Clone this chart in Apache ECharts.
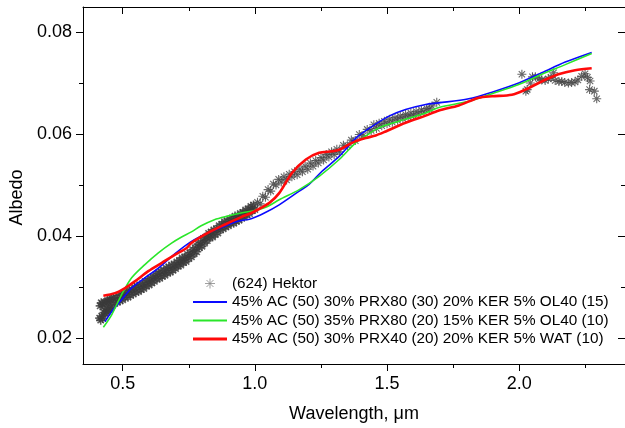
<!DOCTYPE html>
<html>
<head>
<meta charset="utf-8">
<script src="https://cdn.jsdelivr.net/npm/echarts@6/dist/echarts.min.js"></script>
<style>
  html, body { margin: 0; padding: 0; background: #fff; }
  #chart { width: 625px; height: 428px; }
</style>
</head>
<body>
<div id="chart"></div>
<script>
// legend names
const seriesNames = [
  '(624) Hektor',
  '45% AC (50) 30% PRX80 (30) 20% KER 5% OL40 (15)',
  '45% AC (50) 35% PRX80 (20) 15% KER 5% OL40 (10)',
  '45% AC (50) 30% PRX40 (20) 20% KER 5% WAT (10)'
]

// axis ticks
const xMajor = [0.5, 1.0, 1.5, 2.0]
const xMinor = [0.75, 1.25, 1.75, 2.25]
const yMajor = [0.02, 0.04, 0.06, 0.08]
const yMinor = [0.03, 0.05, 0.07]

// (624) Hektor reflectance spectrum, [wavelength um, albedo]
const hektor = [
  [0.413, 0.0240], [0.415, 0.0264], [0.417, 0.0236], [0.419, 0.0270], [0.421, 0.0244],
  [0.423, 0.0268], [0.425, 0.0239], [0.427, 0.0262], [0.430, 0.0251], [0.432, 0.0270],
  [0.435, 0.0249], [0.437, 0.0272], [0.440, 0.0252], [0.442, 0.0274], [0.445, 0.0256],
  [0.447, 0.0272], [0.450, 0.0259], [0.452, 0.0276], [0.455, 0.0261], [0.457, 0.0279],
  [0.460, 0.0265], [0.465, 0.0280], [0.470, 0.0270], [0.475, 0.0280], [0.480, 0.0271],
  [0.485, 0.0284], [0.490, 0.0274], [0.495, 0.0285], [0.500, 0.0276], [0.505, 0.0289],
  [0.510, 0.0281], [0.515, 0.0291], [0.520, 0.0281], [0.525, 0.0295], [0.530, 0.0285],
  [0.535, 0.0295], [0.540, 0.0287], [0.545, 0.0300], [0.550, 0.0291], [0.555, 0.0302],
  [0.560, 0.0292], [0.565, 0.0305], [0.570, 0.0296], [0.575, 0.0306], [0.580, 0.0298],
  [0.585, 0.0312], [0.590, 0.0303], [0.595, 0.0314], [0.600, 0.0305], [0.605, 0.0318],
  [0.610, 0.0309], [0.615, 0.0320], [0.620, 0.0312], [0.625, 0.0325], [0.630, 0.0317],
  [0.635, 0.0328], [0.640, 0.0318], [0.645, 0.0332], [0.650, 0.0322], [0.655, 0.0333],
  [0.660, 0.0324], [0.665, 0.0338], [0.670, 0.0329], [0.675, 0.0340], [0.680, 0.0330],
  [0.685, 0.0344], [0.690, 0.0334], [0.695, 0.0345], [0.700, 0.0337], [0.705, 0.0350],
  [0.710, 0.0342], [0.715, 0.0353], [0.720, 0.0344], [0.725, 0.0358], [0.730, 0.0349],
  [0.735, 0.0359], [0.740, 0.0351], [0.745, 0.0365], [0.750, 0.0357], [0.755, 0.0368],
  [0.760, 0.0360], [0.765, 0.0374], [0.770, 0.0366], [0.775, 0.0378], [0.780, 0.0370],
  [0.785, 0.0385], [0.790, 0.0378], [0.795, 0.0389], [0.800, 0.0381], [0.805, 0.0396],
  [0.810, 0.0387], [0.815, 0.0399], [0.820, 0.0392], [0.825, 0.0406], [0.830, 0.0398],
  [0.835, 0.0409], [0.840, 0.0399], [0.845, 0.0413], [0.850, 0.0404], [0.855, 0.0415],
  [0.860, 0.0407], [0.865, 0.0421], [0.870, 0.0413], [0.875, 0.0424], [0.880, 0.0415],
  [0.885, 0.0429], [0.890, 0.0419], [0.895, 0.0430], [0.900, 0.0421], [0.905, 0.0434],
  [0.910, 0.0426], [0.915, 0.0436], [0.920, 0.0426], [0.925, 0.0440], [0.930, 0.0430],
  [0.935, 0.0440], [0.940, 0.0432], [0.945, 0.0445], [0.950, 0.0436], [0.955, 0.0447],
  [0.960, 0.0438], [0.965, 0.0452], [0.970, 0.0443], [0.975, 0.0454], [0.980, 0.0445],
  [0.985, 0.0459], [0.990, 0.0451], [0.995, 0.0462], [1.000, 0.0453], [1.010, 0.0467],
  [1.020, 0.0464], [1.030, 0.0479], [1.040, 0.0477], [1.050, 0.0492], [1.060, 0.0489],
  [1.070, 0.0503], [1.080, 0.0501], [1.090, 0.0512], [1.100, 0.0507], [1.110, 0.0517],
  [1.120, 0.0511], [1.130, 0.0522], [1.140, 0.0517], [1.150, 0.0527], [1.160, 0.0521],
  [1.170, 0.0532], [1.180, 0.0527], [1.190, 0.0538], [1.200, 0.0532], [1.210, 0.0544],
  [1.220, 0.0538], [1.230, 0.0549], [1.240, 0.0544], [1.250, 0.0555], [1.260, 0.0550],
  [1.270, 0.0561], [1.280, 0.0556], [1.290, 0.0566], [1.300, 0.0561], [1.310, 0.0571],
  [1.320, 0.0566], [1.335, 0.0579], [1.350, 0.0578], [1.365, 0.0589], [1.380, 0.0588],
  [1.395, 0.0600], [1.410, 0.0598], [1.425, 0.0610], [1.440, 0.0608], [1.450, 0.0619],
  [1.460, 0.0612], [1.470, 0.0622], [1.480, 0.0617], [1.490, 0.0626], [1.500, 0.0621],
  [1.510, 0.0630], [1.520, 0.0624], [1.530, 0.0633], [1.540, 0.0628], [1.550, 0.0636],
  [1.560, 0.0631], [1.570, 0.0639], [1.580, 0.0634], [1.590, 0.0642], [1.600, 0.0637],
  [1.610, 0.0645], [1.620, 0.0640], [1.630, 0.0648], [1.640, 0.0644], [1.650, 0.0651],
  [1.660, 0.0650], [1.670, 0.0656], [1.688, 0.0663],
  [2.010, 0.0718], [2.025, 0.0685], [2.030, 0.0688], [2.042, 0.0701], [2.050, 0.0713],
  [2.061, 0.0713], [2.075, 0.0709], [2.085, 0.0707], [2.098, 0.0706], [2.110, 0.0709],
  [2.120, 0.0712], [2.130, 0.0721], [2.136, 0.0706], [2.150, 0.0704], [2.161, 0.0704],
  [2.172, 0.0702], [2.186, 0.0701], [2.198, 0.0702], [2.211, 0.0703], [2.222, 0.0707],
  [2.236, 0.0714], [2.249, 0.0719], [2.258, 0.0712], [2.268, 0.0705], [2.266, 0.0688],
  [2.284, 0.0685], [2.293, 0.0670]
]

// model spectra
const modelBlue = [
  [0.433, 0.0233], [0.459, 0.0253], [0.496, 0.0276], [0.534, 0.0299], [0.584, 0.0319],
  [0.635, 0.0338], [0.697, 0.0366], [0.759, 0.0390], [0.822, 0.0407], [0.885, 0.0420],
  [0.935, 0.0430], [0.986, 0.0435], [1.036, 0.0446], [1.092, 0.0462], [1.168, 0.0489],
  [1.205, 0.0502], [1.254, 0.0528], [1.319, 0.0557], [1.382, 0.0593], [1.444, 0.0616],
  [1.507, 0.0636], [1.570, 0.0649], [1.646, 0.0659], [1.696, 0.0662], [1.809, 0.0670],
  [1.897, 0.0683], [1.998, 0.0701], [2.085, 0.0721], [2.174, 0.0742], [2.274, 0.0761]
]
const modelGreen = [
  [0.427, 0.0222], [0.459, 0.0247], [0.496, 0.0286], [0.534, 0.0319], [0.584, 0.0345],
  [0.635, 0.0368], [0.685, 0.0387], [0.723, 0.0399], [0.760, 0.0409], [0.797, 0.0421],
  [0.847, 0.0433], [0.897, 0.0440], [0.948, 0.0446], [0.998, 0.0451], [1.048, 0.0459],
  [1.092, 0.0472], [1.168, 0.0492], [1.243, 0.0518], [1.319, 0.0551], [1.382, 0.0584],
  [1.419, 0.0597], [1.469, 0.0613], [1.545, 0.0626], [1.646, 0.0642], [1.696, 0.0653],
  [1.809, 0.0665], [1.897, 0.0680], [1.998, 0.0698], [2.085, 0.0718], [2.174, 0.0737],
  [2.274, 0.0759]
]
const modelRed = [
  [0.427, 0.0284], [0.471, 0.0289], [0.509, 0.0299], [0.546, 0.0312], [0.597, 0.0332],
  [0.647, 0.0348], [0.697, 0.0364], [0.741, 0.0377], [0.759, 0.0387], [0.822, 0.0407],
  [0.885, 0.0423], [0.948, 0.0438], [0.990, 0.0447], [1.055, 0.0466], [1.092, 0.0485],
  [1.141, 0.0525], [1.193, 0.0551], [1.243, 0.0564], [1.292, 0.0567], [1.319, 0.0570],
  [1.369, 0.0584], [1.419, 0.0593], [1.457, 0.0598], [1.495, 0.0606], [1.570, 0.0623],
  [1.646, 0.0637], [1.696, 0.0647], [1.771, 0.0657], [1.847, 0.0672], [1.897, 0.0675],
  [1.972, 0.0678], [2.023, 0.0688], [2.085, 0.0704], [2.148, 0.0718], [2.211, 0.0726],
  [2.274, 0.0730]
]

const X_MIN = 0.35
const X_MAX = 2.4
const Y_MIN = 0.015
const Y_MAX = 0.085
const FONT = '"Liberation Sans", Arial, sans-serif'
const STAR = 'path://M5,0L5,10M0,5L10,5M1.5,1.5L8.5,8.5M1.5,8.5L8.5,1.5'
// legend line icons (thin bar, drawn filled)
const BAR_THIN = 'path://M0,0L34,0L34,2L0,2Z'
const BAR_THICK = 'path://M0,0L34,0L34,3L0,3Z'

// one axis layer: ticks (major or minor), optional labels
function makeAxis (dim, pos, ticks, len, inside, withLabels, withLine) {
  const ax = {
    type: 'value',
    position: pos,
    min: dim === 'x' ? X_MIN : Y_MIN,
    max: dim === 'x' ? X_MAX : Y_MAX,
    axisLine: { show: withLine, onZero: false, lineStyle: { color: '#000', width: 1 } },
    axisTick: { show: true, inside: inside, length: len, customValues: ticks, lineStyle: { color: '#000', width: 1 } },
    axisLabel: { show: false },
    splitLine: { show: false }
  }
  if (withLabels) {
    ax.axisLabel = {
      show: true,
      customValues: ticks,
      margin: 11,
      color: '#000',
      fontFamily: FONT,
      fontSize: 18,
      formatter: v => dim === 'x' ? v.toFixed(1) : v.toFixed(2)
    }
  }
  return ax
}

const xBottom = makeAxis('x', 'bottom', xMajor, 7, false, true, true)
xBottom.name = 'Wavelength, \u03bcm'
xBottom.nameLocation = 'middle'
xBottom.nameGap = 41
xBottom.nameTextStyle = { color: '#000', fontFamily: FONT, fontSize: 18 }

const yLeft = makeAxis('y', 'left', yMajor, 7, false, true, true)
yLeft.name = 'Albedo'
yLeft.nameLocation = 'middle'
yLeft.nameGap = 54
yLeft.nameTextStyle = { color: '#000', fontFamily: FONT, fontSize: 18, padding: [0, 24, 0, 0] }

// the visible part of the spectrum is a dense band below 1 um: heavier strokes there
const hektorData = hektor.map(p => p[0] < 1.005
  ? { value: p, itemStyle: { borderWidth: 1.6, borderColor: '#3a3a3a' } }
  : p)

const chart = echarts.init(document.getElementById('chart'))
chart.setOption({
  animation: false,
  backgroundColor: '#fff',
  grid: { left: 83, top: 7, width: 544, height: 357, containLabel: false },
  xAxis: [
    xBottom,
    makeAxis('x', 'bottom', xMinor, 4, false, false, false),
    makeAxis('x', 'top', xMajor, 7, true, false, true),
    makeAxis('x', 'top', xMinor, 4, true, false, false)
  ],
  yAxis: [
    yLeft,
    makeAxis('y', 'left', yMinor, 4, false, false, false),
    makeAxis('y', 'right', yMajor, 7, true, false, true),
    makeAxis('y', 'right', yMinor, 4, true, false, false)
  ],
  legend: {
    orient: 'vertical',
    left: 193,
    top: 276,
    padding: 0,
    itemGap: 3.5,
    itemWidth: 34,
    itemHeight: 10,
    textStyle: { color: '#000', fontFamily: FONT, fontSize: 15.3 },
    data: [
      { name: seriesNames[0], icon: STAR, itemStyle: { color: 'transparent', borderColor: '#888', borderWidth: 1 } },
      { name: seriesNames[1], icon: BAR_THIN, itemStyle: { color: '#0a0aff', borderWidth: 0 } },
      { name: seriesNames[2], icon: BAR_THIN, itemStyle: { color: '#2ae62a', borderWidth: 0 } },
      { name: seriesNames[3], icon: BAR_THICK, itemStyle: { color: '#ff0a0a', borderWidth: 0 } }
    ]
  },
  series: [
    {
      name: seriesNames[0],
      type: 'scatter',
      data: hektorData,
      symbol: STAR,
      symbolSize: 9,
      itemStyle: { color: 'transparent', borderColor: '#444', borderWidth: 1.1 }
    },
    {
      name: seriesNames[1],
      type: 'line',
      data: modelBlue,
      symbol: 'none',
      smooth: 0.3,
      lineStyle: { color: '#0a0aff', width: 1.6 },
      itemStyle: { color: '#0a0aff' }
    },
    {
      name: seriesNames[2],
      type: 'line',
      data: modelGreen,
      symbol: 'none',
      smooth: 0.3,
      lineStyle: { color: '#2ae62a', width: 1.6 },
      itemStyle: { color: '#2ae62a' }
    },
    {
      name: seriesNames[3],
      type: 'line',
      data: modelRed,
      symbol: 'none',
      smooth: 0.3,
      lineStyle: { color: '#ff0a0a', width: 2.6 },
      itemStyle: { color: '#ff0a0a' }
    }
  ]
})
</script>
</body>
</html>
